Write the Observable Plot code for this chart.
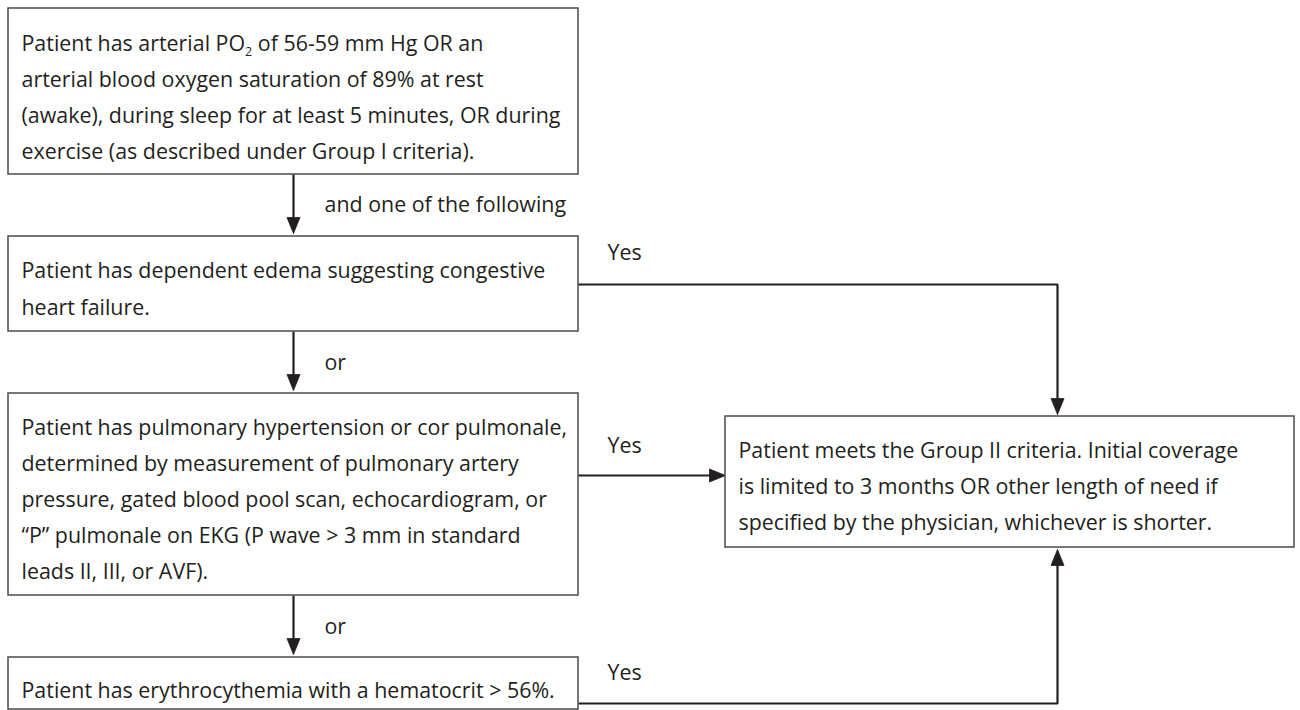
<!DOCTYPE html>
<html>
<head>
<meta charset="utf-8">
<script src="https://cdn.jsdelivr.net/npm/d3@7"></script>
<script src="https://cdn.jsdelivr.net/npm/@observablehq/plot@0.6"></script>
<style>
  html, body { margin: 0; padding: 0; background: #fff; }
  #chart svg { display: block; }
</style>
</head>
<body>
<div id="chart"></div>
<script>
// ---- content (text) ----
const boxTexts = [
  "Patient has arterial PO₂ of 56-59 mm Hg OR an\narterial blood oxygen saturation of 89% at rest\n(awake), during sleep for at least 5 minutes, OR during\nexercise (as described under Group I criteria).",
  "Patient has dependent edema suggesting congestive\nheart failure.",
  "Patient has pulmonary hypertension or cor pulmonale,\ndetermined by measurement of pulmonary artery\npressure, gated blood pool scan, echocardiogram, or\n“P” pulmonale on EKG (P wave > 3 mm in standard\nleads II, III, or AVF).",
  "Patient has erythrocythemia with a hematocrit > 56%.",
  "Patient meets the Group II criteria. Initial coverage\nis limited to 3 months OR other length of need if\nspecified by the physician, whichever is shorter."
];
const edgeLabels = ["and one of the following", "or", "or", "Yes", "Yes", "Yes"];

// ---- layout (pixel frame of the diagram) ----
const boxLeft   = [8, 8, 8, 8, 725];
const boxRight  = [578, 578, 578, 578, 1294];
const boxTop    = [8, 236, 393, 657, 416];
const boxBottom = [174, 331, 595, 709, 547];
const textMid   = [93, 284.5, 495, 686, 482];

const labelX = [324, 324, 324, 607, 607, 607];
const labelY = [205, 363, 627, 253, 446, 673];

// connector paths: list of points, last point is the arrow tip
const connectors = [
  [[293, 174], [293, 233]],
  [[293, 331], [293, 390]],
  [[293, 595], [293, 654]],
  [[578, 284], [1057, 284], [1057, 414]],
  [[578, 475], [725, 475]],
  [[578, 703], [1057, 703], [1057, 549]]
];

const ink = "#231f20";
const fontSize = 21.4;
const lineGap = 36.2;
const headLen = 16, headHalf = 6.5;

// build tables
const boxes = boxTexts.map((t, i) => ({
  text: t, x1: boxLeft[i], x2: boxRight[i], y1: boxTop[i], y2: boxBottom[i],
  tx: boxLeft[i] + 13, ty: textMid[i]
}));
const labels = edgeLabels.map((t, i) => ({text: t, x: labelX[i], y: labelY[i]}));

const segs = [];
const heads = [];
connectors.forEach((pts, k) => {
  const n = pts.length;
  const [tx, ty] = pts[n - 1];
  const [px, py] = pts[n - 2];
  const len = Math.hypot(tx - px, ty - py);
  const ux = (tx - px) / len, uy = (ty - py) / len;
  const bx = tx - ux * headLen, by = ty - uy * headLen;
  pts.forEach((p, j) => {
    const last = j === n - 1;
    segs.push({k, x: last ? bx + ux * 2 : p[0], y: last ? by + uy * 2 : p[1]});
  });
  const nx = -uy, ny = ux;
  heads.push({k, x: tx, y: ty});
  heads.push({k, x: bx + nx * headHalf, y: by + ny * headHalf});
  heads.push({k, x: bx - nx * headHalf, y: by - ny * headHalf});
  heads.push({k, x: tx, y: ty});
});

const chart = Plot.plot({
  width: 1300,
  height: 710,
  margin: 0,
  style: {background: "#fff", fontFamily: "'Open Sans', Lato, sans-serif"},
  x: {domain: [0, 1300], range: [0, 1300], axis: null},
  y: {domain: [0, 710], range: [0, 710], axis: null},
  marks: [
    Plot.line(segs, {x: "x", y: "y", z: "k", stroke: ink, strokeWidth: 2.2, strokeLinejoin: "miter", strokeLinecap: "butt", curve: "linear"}),
    Plot.line(heads, {x: "x", y: "y", z: "k", fill: ink, stroke: ink, strokeWidth: 0.8, curve: "linear"}),
    Plot.rect(boxes, {x1: "x1", x2: "x2", y1: "y1", y2: "y2", fill: "#fff", stroke: "#4a4a4a", strokeWidth: 1.5}),
    Plot.text(boxes, {x: "tx", y: "ty", text: "text", textAnchor: "start", lineAnchor: "middle",
      lineHeight: lineGap / fontSize, fontSize, fill: ink}),
    Plot.text(labels, {x: "x", y: "y", text: "text", textAnchor: "start", lineAnchor: "middle", fontSize, fill: ink})
  ]
});

// subscript for PO₂
const ns = "http://www.w3.org/2000/svg";
chart.querySelectorAll("tspan").forEach(t => {
  if (t.textContent.includes("₂")) {
    const [a, b] = t.textContent.split("₂");
    t.textContent = a;
    const sub = document.createElementNS(ns, "tspan");
    sub.setAttribute("dy", "5");
    sub.setAttribute("font-size", "12.5");
    sub.textContent = "2";
    const rest = document.createElementNS(ns, "tspan");
    rest.setAttribute("dy", "-5");
    rest.textContent = b;
    t.appendChild(sub);
    t.appendChild(rest);
  }
});

document.getElementById("chart").appendChild(chart);
</script>
</body>
</html>
